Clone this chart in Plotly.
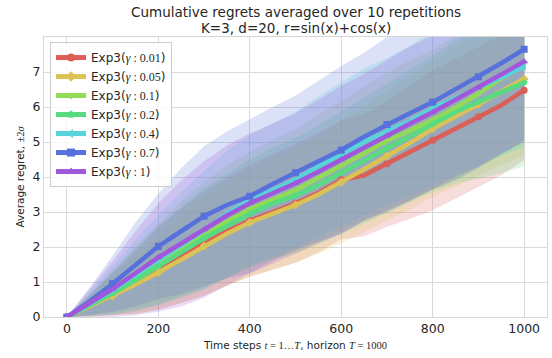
import plotly.graph_objects as go

# ---- data ----
steps = [0, 50, 100, 150, 200, 250, 300, 350, 400, 450, 500,
         550, 600, 650, 700, 750, 800, 850, 900, 950, 1000]

names = ["0.01", "0.05", "0.1", "0.2", "0.4", "0.7", "1"]

mean_001 = [0, 0.32, 0.66, 1.0, 1.4, 1.75, 2.1, 2.45, 2.75, 3.0, 3.25, 3.55, 3.92, 4.05, 4.38, 4.7, 5.05, 5.38, 5.72, 6.05, 6.48]
mean_005 = [0, 0.3, 0.6, 0.93, 1.27, 1.65, 2.03, 2.38, 2.7, 2.95, 3.2, 3.5, 3.85, 4.22, 4.6, 4.97, 5.38, 5.72, 6.08, 6.45, 6.8]
mean_01 = [0, 0.35, 0.72, 1.12, 1.52, 1.95, 2.35, 2.72, 3.08, 3.35, 3.62, 3.97, 4.32, 4.68, 5.03, 5.33, 5.63, 5.98, 6.38, 6.82, 7.25]
mean_02 = [0, 0.33, 0.68, 1.05, 1.45, 1.85, 2.25, 2.6, 2.95, 3.25, 3.47, 3.77, 4.12, 4.47, 4.83, 5.17, 5.52, 5.86, 6.15, 6.42, 6.7]
mean_04 = [0, 0.38, 0.76, 1.2, 1.63, 2.07, 2.48, 2.95, 3.35, 3.62, 3.92, 4.3, 4.66, 5.0, 5.3, 5.6, 5.96, 6.26, 6.56, 6.86, 7.15]
mean_07 = [0, 0.45, 0.95, 1.5, 2.02, 2.45, 2.88, 3.2, 3.45, 3.8, 4.12, 4.45, 4.77, 5.15, 5.5, 5.82, 6.14, 6.5, 6.86, 7.25, 7.65]
mean_1 = [0, 0.4, 0.8, 1.25, 1.7, 2.1, 2.5, 2.9, 3.25, 3.52, 3.82, 4.15, 4.5, 4.85, 5.18, 5.52, 5.85, 6.2, 6.55, 6.93, 7.3]

twosig_001 = [0, 0.3, 0.6, 0.9, 1.2, 1.35, 1.5, 1.55, 1.6, 1.65, 1.7, 1.7, 1.7, 1.75, 1.8, 1.9, 2.0, 2.0, 2.0, 2.0, 2.0]
twosig_005 = [0, 0.3, 0.55, 0.85, 1.05, 1.25, 1.4, 1.5, 1.55, 1.6, 1.65, 1.7, 1.75, 1.8, 1.85, 1.9, 1.95, 2.0, 2.05, 2.1, 2.2]
twosig_01 = [0, 0.3, 0.6, 0.9, 1.15, 1.35, 1.5, 1.6, 1.65, 1.7, 1.75, 1.8, 1.85, 1.9, 1.95, 2.0, 2.0, 2.05, 2.1, 2.2, 2.3]
twosig_02 = [0, 0.3, 0.6, 0.9, 1.1, 1.3, 1.45, 1.5, 1.55, 1.6, 1.65, 1.7, 1.75, 1.8, 1.85, 1.9, 1.95, 2.05, 2.2, 2.3, 2.4]
twosig_04 = [0, 0.35, 0.7, 1.0, 1.3, 1.5, 1.7, 1.8, 1.85, 1.9, 1.95, 2.0, 2.05, 2.1, 2.1, 2.15, 2.2, 2.2, 2.25, 2.25, 2.3]
twosig_07 = [0, 0.4, 0.8, 1.2, 1.5, 1.8, 2.0, 2.1, 2.2, 2.2, 2.2, 2.3, 2.4, 2.4, 2.5, 2.5, 2.5, 2.6, 2.6, 2.6, 2.6]
twosig_1 = [0, 0.4, 0.8, 1.2, 1.55, 1.8, 1.95, 2.0, 2.0, 2.0, 2.0, 2.05, 2.1, 2.1, 2.15, 2.2, 2.2, 2.2, 2.25, 2.25, 2.3]

x_ticks = [0, 200, 400, 600, 800, 1000]
y_ticks = [0, 1, 2, 3, 4, 5, 6, 7]

title_lines = ["Cumulative regrets averaged over 10 repetitions", "K=3, d=20, r=sin(x)+cos(x)"]

# ---- styling ----
means = [mean_001, mean_005, mean_01, mean_02, mean_04, mean_07, mean_1]
sigs = [twosig_001, twosig_005, twosig_01, twosig_02, twosig_04, twosig_07, twosig_1]
colors = ["#db5f57", "#dbc257", "#91db57", "#57db80", "#57d3db", "#5770db", "#a157db"]
symbols = ["circle", "diamond", "triangle-down", "pentagon", "triangle-left", "square", "triangle-up"]


def rgba(h, a):
    h = h.lstrip("#")
    return "rgba(%d,%d,%d,%.2f)" % (int(h[0:2], 16), int(h[2:4], 16), int(h[4:6], 16), a)


MATH = "Liberation Serif"
fig = go.Figure()

# bands
for m, s, c in zip(means, sigs, colors):
    up = [a + b for a, b in zip(m, s)]
    lo = [a - b for a, b in zip(m, s)]
    fig.add_trace(go.Scatter(x=steps, y=up, mode="lines", line=dict(width=0),
                             showlegend=False, hoverinfo="skip"))
    fig.add_trace(go.Scatter(x=steps, y=lo, mode="lines", line=dict(width=0),
                             fill="tonexty", fillcolor=rgba(c, 0.21),
                             showlegend=False, hoverinfo="skip"))

# mean lines
for m, c, sym, n in zip(means, colors, symbols, names):
    fig.add_trace(go.Scatter(x=steps, y=m, mode="lines", line=dict(color=c, width=4.5),
                             showlegend=False))
    fig.add_trace(go.Scatter(x=steps[::2], y=m[::2], mode="markers",
                             marker=dict(color=c, symbol=sym, size=7, line=dict(width=0)),
                             showlegend=False, cliponaxis=True))
    label = "Exp3(<span style='font-family:%s'><i>γ</i> : %s</span>)" % (MATH, n)
    fig.add_trace(go.Scatter(x=[None], y=[None], mode="lines+markers", name=label,
                             line=dict(color=c, width=5),
                             marker=dict(color=c, symbol=sym, size=8)))

# title as two centred lines
for txt, py in zip(title_lines, [12, 28]):
    fig.add_annotation(text=txt, xref="paper", yref="paper", x=0.5, y=(317 - py) / 280.0,
                       xanchor="center", yanchor="middle", showarrow=False,
                       font=dict(size=13.5, color="#262626"))

grid = "#dadada"
fig.update_layout(
    width=552, height=358,
    margin=dict(l=44, r=5, t=37, b=41),
    paper_bgcolor="white", plot_bgcolor="white",
    font=dict(family="DejaVu Sans", color="#262626", size=12),
    showlegend=True,
    legend=dict(x=0.012, y=0.982, xanchor="left", yanchor="top",
                traceorder="normal",
                bgcolor="rgba(255,255,255,0.8)", bordercolor="#cccccc", borderwidth=1,
                font=dict(size=12, color="#262626"), itemwidth=30,
                tracegroupgap=0),
    xaxis=dict(range=[-50, 1050], tickvals=x_ticks, ticktext=[str(v) for v in x_ticks],
               showgrid=True, gridcolor=grid, gridwidth=1, zeroline=False,
               showline=True, linecolor="#d5d5d5", linewidth=1.3, mirror=True,
               ticks="", tickfont=dict(size=12.5, color="#262626"),
               title=dict(text="Time steps <span style='font-family:%s'><i>t</i> = 1…<i>T</i></span>, horizon <span style='font-family:%s'><i>T</i> = 1000</span>" % (MATH, MATH),
                          font=dict(size=10.5, color="#262626"), standoff=6)),
    yaxis=dict(range=[0, 8], tickvals=y_ticks, ticktext=[str(v) for v in y_ticks],
               showgrid=True, gridcolor=grid, gridwidth=1, zeroline=False,
               showline=True, linecolor="#d5d5d5", linewidth=1.3, mirror=True,
               ticks="", tickfont=dict(size=12.5, color="#262626"),
               title=dict(text="Average regret, <span style='font-family:%s'>±2<i>σ</i></span>" % MATH,
                          font=dict(size=10.5, color="#262626"), standoff=5)),
)

fig.write_html("out.html")
